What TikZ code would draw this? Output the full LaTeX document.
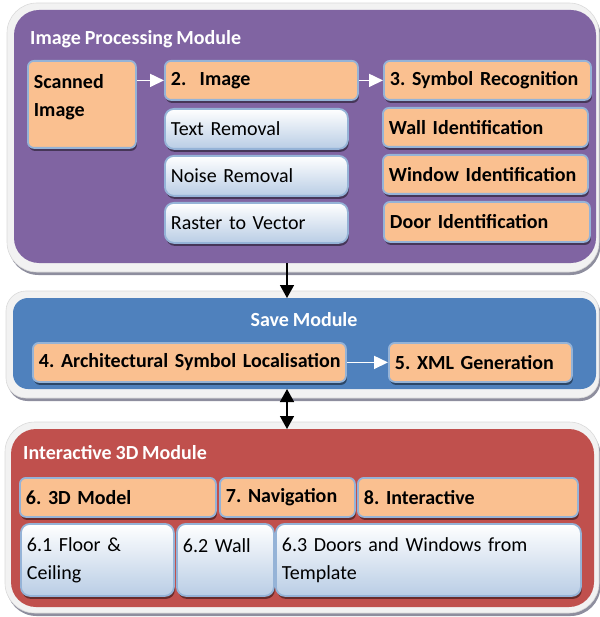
\documentclass[tikz,border=0pt]{standalone}
\usepackage{fontspec}
\setmainfont{Carlito}[WordSpace=0.85]
\usetikzlibrary{arrows.meta}
\definecolor{purp}{HTML}{8064A2}
\definecolor{blu}{HTML}{4F81BD}
\definecolor{rd}{HTML}{C0504D}
\definecolor{framefill}{HTML}{F2F2F2}
\definecolor{framedge}{HTML}{DADADA}
\definecolor{frameshadow}{HTML}{8E8E9E}
\definecolor{orng}{HTML}{FAC090}
\definecolor{boxedge}{HTML}{95B3D7}
\definecolor{boxbot}{HTML}{B9CDE5}
\frenchspacing
\hyphenpenalty=10000
\hbadness=10000
\hfuzz=50pt
\newcommand\bx[7]{\node[#1, minimum width=#5pt, minimum height=#6pt, text width=\the\numexpr#5-12\relax pt] (#2) at (#3,#4) {#7};}
\begin{document}
\begin{tikzpicture}[x=1pt,y=-1pt,
  modframe/.style={draw=framedge, fill=framefill, line width=0.6pt, rounded corners=#1, inner sep=0pt, outer sep=0pt, anchor=north west,
    preaction={fill=frameshadow, transform canvas={shift={(1.5pt,-3pt)}}}},
  module/.style={fill=#1, rounded corners=22pt, inner sep=0pt, outer sep=0pt, anchor=north west},
  title/.style={text=white, font=\frenchspacing\bfseries\fontsize{20}{24}\selectfont, inner sep=0pt},
  boxbase/.style={anchor=north west, draw=boxedge, line width=1.8pt, align=left, inner xsep=6pt, inner ysep=2pt,
    preaction={fill=black, opacity=0.45, transform canvas={shift={(1pt,-3pt)}}}},
  obox/.style={boxbase, fill=orng, rounded corners=6pt, font=\frenchspacing\bfseries\fontsize{20}{28}\selectfont},
  tallbox/.style={obox, text depth=45pt},
  wbox/.style={boxbase, top color=white, bottom color=boxbot, rounded corners=9pt, font=\frenchspacing\fontsize{20}{28}\selectfont},
  warrow/.style={draw=white, line width=1.6pt, -{Triangle[width=13pt,length=14pt]}},
  barrow/.style={draw=black, line width=1.5pt, -{Triangle[width=14pt,length=13pt]}},
  dbarrow/.style={draw=black, line width=1.5pt, {Triangle[width=14pt,length=13pt]}-{Triangle[width=14pt,length=13pt]}}
]
\useasboundingbox (0,0) rectangle (599,617);

% ---------- module frames ----------
\node[modframe=30pt, minimum width=592pt, minimum height=269pt] (f1) at (7,3) {};
\node[module=purp, rounded corners=25pt, minimum width=582pt, minimum height=253pt] (m1) at (14,10) {};
\node[modframe=20pt, minimum width=593pt, minimum height=107pt] (f2) at (6,291) {};
\node[module=blu, rounded corners=15pt, minimum width=583pt, minimum height=91pt] (m2) at (13,298) {};
\node[modframe=30pt, minimum width=594pt, minimum height=191pt] (f3) at (5,422) {};
\node[module=rd, rounded corners=25pt, minimum width=583pt, minimum height=178pt] (m3) at (11,429) {};

% ---------- titles ----------
\node[title, anchor=base west] (t1) at (30,45) {Image Processing Module};
\node[title, anchor=base] (t2) at (304,326) {Save Module};
\node[title, anchor=base west] (t3) at (23,459) {Interactive 3D Module};

% ---------- image processing ----------
\bx{tallbox}{scan}{27}{60}{108}{87}{Scanned\\Image}
\bx{obox}{img}{164}{60}{193}{39}{2.~~Image}
\bx{wbox}{trm}{164}{108}{183}{40}{Text Removal}
\bx{wbox}{nrm}{164}{155}{183}{40}{Noise Removal}
\bx{wbox}{r2v}{164}{202}{183}{40}{Raster to Vector}
\bx{obox}{sym}{383}{60}{207}{39}{\mbox{3. Symbol Recognition}}
\bx{obox}{wall}{382}{107}{205}{39}{Wall Identification}
\bx{obox}{win}{382}{154}{205}{39}{\mbox{Window Identification}}
\bx{obox}{door}{383}{201}{206}{40}{Door Identification}

% ---------- save ----------
\bx{obox}{arch}{32}{342}{313}{39}{\mbox{4. Architectural Symbol Localisation}}
\bx{obox}{xml}{388}{342}{183}{39}{5. XML Generation}

% ---------- interactive ----------
\bx{obox}{m3d}{19}{477}{196}{39}{6. 3D Model}
\bx{obox}{nav}{219}{477}{135}{39}{\mbox{7. Navigation}}
\bx{obox}{inter}{357}{477}{220}{39}{8. Interactive}
\bx{wbox}{floor}{20}{523}{153}{72}{6.1 Floor \&\\Ceiling}
\bx{wbox}{wtwo}{176}{523}{97}{72}{6.2 Wall\\\mbox{}}
\bx{wbox}{doors}{275}{523}{305}{72}{\mbox{6.3 Doors and Windows from}\\Template}

% ---------- connectors ----------
\coordinate (ax) at (287,0);
\draw[warrow] (scan.east |- img.west) -- (img.west);
\draw[warrow] (img.east) -- (sym.west);
\draw[warrow] (arch.east) -- (xml.west);
\draw[barrow] (ax |- m1.south) -- (ax |- m2.north);
\draw[dbarrow] (ax |- m2.south) -- (ax |- m3.north);
\end{tikzpicture}
\end{document}
